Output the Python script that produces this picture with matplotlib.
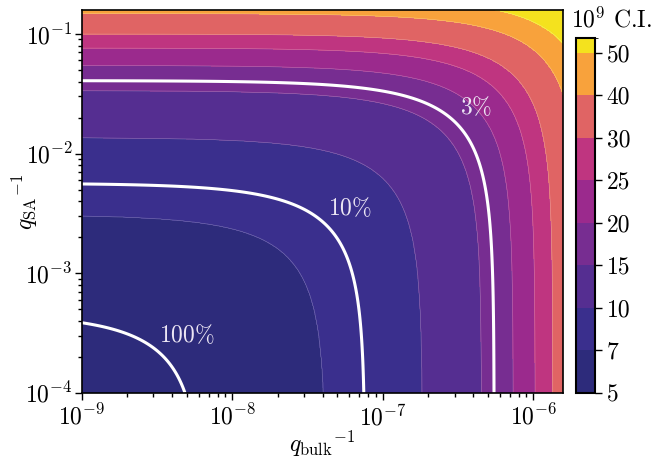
import numpy as np
import matplotlib
matplotlib.use('Agg')
import matplotlib.pyplot as plt
from matplotlib.colors import ListedColormap, BoundaryNorm
import matplotlib.cm as cm

plt.rcParams['font.family'] = 'serif'
plt.rcParams['font.serif'] = ['cmr10']
plt.rcParams['mathtext.fontset'] = 'cm'
plt.rcParams['axes.unicode_minus'] = False
plt.rcParams['axes.formatter.use_mathtext'] = True
plt.rcParams['font.size'] = 17

## DATA
# contour boundaries sit on curves x + y/ratio = u, ratio read from both edges
ratio = 7.4e4
# C.I. (in 1e9) at the values of u where band edges cross
u_nodes = [1.0e-9, 4.17e-8, 1.84e-7, 4.54e-7, 7.37e-7, 1.03e-6, 1.35e-6, 2.0e-6, 2.7e-6, 4.0e-6]
ci_nodes = [5.2, 7, 10, 15, 20, 25, 30, 40, 50, 53]
ci_levels = [5, 7, 10, 15, 20, 25, 30, 40, 50]
band_colors = ['#2d2b7b', '#3a2f8d', '#552e91', '#772d91', '#9b2a8d',
               '#bf3580', '#e06464', '#f8a23c', '#f4e21e']
top_extent = 0.34   # fraction of last band shown on colorbar

# white precision lines
pct_u = [6.2e-9, 7.62e-8, 5.5e-7]
pct_text = [r'$100\%$', r'$10\%$', r'$3\%$']
pct_text_x = [5.0e-9, 6.06e-8, 4.17e-7]
pct_text_y = [3.03e-4, 3.5e-3, 2.46e-2]

## GRID
xs = np.logspace(-9, -5.8, 600)
ys = np.logspace(-4, -0.8, 600)
X, Y = np.meshgrid(xs, ys)
U = X + Y / ratio
CI = np.interp(np.log10(U), np.log10(u_nodes), ci_nodes)

## PLOT
fig = plt.figure(figsize=(6.63, 4.58), dpi=100)
ax = fig.add_axes([0.1232, 0.1426, 0.7265, 0.8355])
cax = fig.add_axes([0.8688, 0.1426, 0.0287, 0.7738])

cmap = ListedColormap(band_colors)
levels = ci_levels + [60]
ax.contourf(X, Y, CI, levels=levels, colors=band_colors)
# faint seams between bands
ax.contour(X, Y, CI, levels=ci_levels[1:], colors='white', linewidths=0.4,
           alpha=0.35, linestyles='solid')

ax.contour(X, Y, np.log10(U), levels=np.log10(pct_u), colors='white',
           linewidths=2.2, linestyles='solid')
for t, tx, ty in zip(pct_text, pct_text_x, pct_text_y):
    ax.text(tx, ty, t, color='#ece6f4', ha='center', va='center', fontsize=17)

ax.set_xscale('log')
ax.set_yscale('log')
ax.set_xlim(1e-9, 10**-5.8)
ax.set_ylim(1e-4, 10**-0.8)
ax.set_xlabel(r'$q_{\rm bulk}{}^{-1}$', fontsize=17)
ax.set_ylabel(r'$q_{\rm SA}{}^{-1}$', fontsize=17)
ax.xaxis.set_label_coords(0.5, -0.095)
ax.yaxis.set_label_coords(-0.087, 0.5)
ax.tick_params(which='both', direction='out', top=False, right=False, width=1)
ax.tick_params(which='major', length=5, labelsize=17)
ax.tick_params(which='minor', length=3)
ax.tick_params(axis='y', pad=1.5)
for s in ax.spines.values():
    s.set_linewidth(1.2)

# colorbar with evenly spaced levels, top band partly shown
bounds = list(range(len(ci_levels))) + [len(ci_levels) - 1 + top_extent]
norm = BoundaryNorm(bounds, len(band_colors))
sm = cm.ScalarMappable(norm=norm, cmap=cmap)
cbar = fig.colorbar(sm, cax=cax, ticks=range(len(ci_levels)), spacing='proportional')
cbar.ax.set_yticklabels([str(l) for l in ci_levels])
cbar.ax.tick_params(length=5, width=1, labelsize=17)
cbar.outline.set_linewidth(1.5)
fig.text(571 / 663, 1 - 27 / 458, r'$10^9$ C.I.', ha='left', va='baseline', fontsize=17)

fig.savefig('out.png', dpi=100)
